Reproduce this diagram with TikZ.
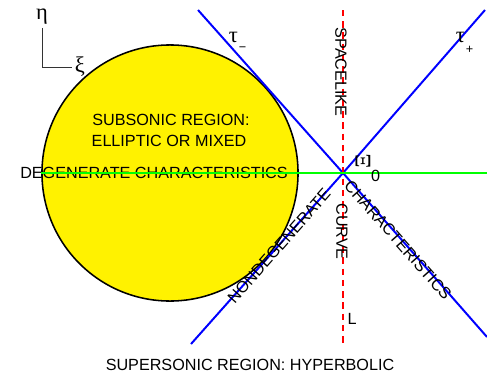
\documentclass[tikz,border=0pt]{standalone}
\usepackage{fontspec}
\setmainfont{Liberation Sans}
\newfontfamily\greekfont{Liberation Serif}
\usetikzlibrary{positioning}

\begin{document}
\begin{tikzpicture}[
  x=0.025cm, y=-0.025cm,
  every node/.style={inner sep=0pt, font=\fontsize{11.5}{13}\selectfont},
  greek/.style={font=\fontsize{16}{18}\selectfont\greekfont},
  region/.style={circle, draw, line width=1.1pt, fill=yellow, minimum size=6.4cm},
  charline/.style={blue, line width=1.4pt},
  degen/.style={green, line width=1.4pt},
  spacelike/.style={red, line width=1.4pt, dash pattern=on 4.5pt off 3.5pt},
  axis/.style={line width=0.6pt, black!80}
]
\useasboundingbox (0,0) rectangle (487,375);

% Subsonic region
\node[region] (sub) at (170,173) {};
\node (subtxt) at (171,119.5) {SUBSONIC REGION:};
\node (elltxt) at (169,141) {ELLIPTIC OR MIXED};
\node (degtxt) at (154,172.5) {DEGENERATE CHARACTERISTICS};

% Characteristics through the point Xi_0
\coordinate (X0) at (343,173);
\coordinate (tmA) at (198,10);
\coordinate (tmB) at (487,337);
\coordinate (tpA) at (485,10);
\coordinate (tpB) at (191,344);
\coordinate (Ltop) at (343,10);
\coordinate (Lbot) at (343,345);
\coordinate (gE) at (487,173);
\draw[charline] (tmA) -- (X0) -- (tmB);
\draw[charline] (tpA) -- (X0) -- (tpB);
\draw[spacelike] (Ltop) -- (Lbot);
\draw[degen] (sub.west) -- (gE);

% Labels
\node[rotate=-90] (space) at (341,72) {SPACELIKE};
\node[rotate=-90] (curve) at (342,231.5) {CURVE};
\node[rotate=48.6] (nondeg) at (279,246) {NONDEGENERATE};
\node[rotate=-48.6] (chars) at (398,240) {CHARACTERISTICS};
\node (Llab) at (352,319) {L};
\node (supers) at (250,365) {SUPERSONIC REGION: HYPERBOLIC};

\node[greek] (taum) at (233.5,37.5) {τ};
\node (taumsign) at (242.5,49) {\small −};
\node[greek] (taup) at (460.5,37.5) {τ};
\node (taupsign) at (469.5,49.5) {\small +};
\node[greek, rotate=90] (Xi) at (363,161.5) {Ξ};
\node (Xisub) at (375.5,176) {0};

% Axes
\node[greek] (eta) at (42,17) {η};
\node[greek] (xi) at (80,67) {ξ};
\draw[axis] ([yshift=-2pt]eta.south) |- ([xshift=-2pt]xi.west);

\end{tikzpicture}
\end{document}
